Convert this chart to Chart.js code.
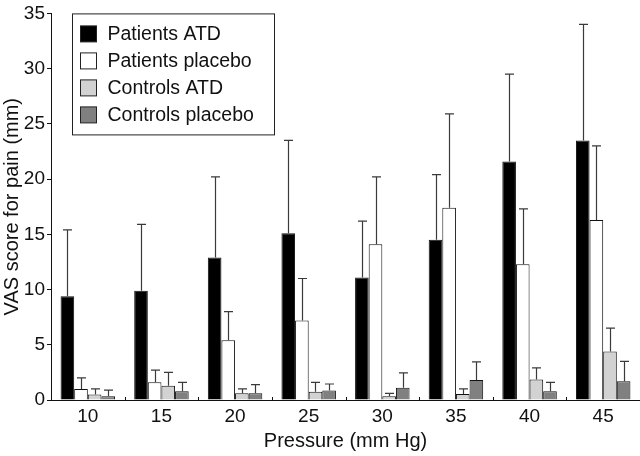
<!DOCTYPE html>
<html>
<head>
<meta charset="utf-8">
<script src="https://cdn.jsdelivr.net/npm/chart.js@4/dist/chart.umd.min.js"></script>
<style>
  html, body { margin: 0; padding: 0; background: #fff; }
  #wrap { width: 640px; height: 456px; }
</style>
</head>
<body>
<div id="wrap"><canvas id="chart" width="640" height="456"></canvas></div>
<script>
// Pain VAS by pressure, ATD vs placebo (mean + SD)
const pressures = ['10', '15', '20', '25', '30', '35', '40', '45'];

const patientsAtd      = [9.4, 9.9, 12.9, 15.1, 11.1, 14.5, 21.6, 23.5];
const patientsAtdSd    = [6.0, 6.0, 7.3, 8.4, 5.1, 5.9, 7.9, 10.5];
const patientsPlacebo  = [1.0, 1.6, 5.4, 7.2, 14.1, 17.4, 12.3, 16.3];
const patientsPlaceboSd = [1.0, 1.1, 2.6, 3.8, 6.1, 8.5, 5.0, 6.7];
const controlsAtd      = [0.5, 1.3, 0.6, 0.75, 0.35, 0.55, 1.85, 4.4];
const controlsAtdSd    = [0.5, 1.2, 0.4, 0.85, 0.25, 0.45, 1.05, 2.1];
const controlsPlacebo  = [0.35, 0.8, 0.6, 0.85, 1.1, 1.8, 0.8, 1.7];
const controlsPlaceboSd = [0.55, 0.8, 0.8, 0.6, 1.35, 1.65, 0.8, 1.8];

const yTicks = [0, 5, 10, 15, 20, 25, 30, 35];

const FONT = '"Liberation Sans", Arial, sans-serif';
const INK = '#111';

/**
 * Upward error bars (mean + SD), drawn through the scales
 */
const errorBars = {
    id: 'errorBars',
    afterDatasetsDraw(chart) {
        const ctx = chart.ctx;
        const y = chart.scales.y;
        ctx.save();
        ctx.strokeStyle = '#3a3a3a';
        ctx.lineWidth = 1.2;
        chart.data.datasets.forEach((ds, i) => {
            const meta = chart.getDatasetMeta(i);
            meta.data.forEach((bar, j) => {
                const top = y.getPixelForValue(ds.data[j] + ds.sd[j]);
                const x = Math.round(bar.x) + 0.5;
                ctx.beginPath();
                ctx.moveTo(x, bar.y);
                ctx.lineTo(x, top);
                ctx.moveTo(x - 4.5, top);
                ctx.lineTo(x + 4.5, top);
                ctx.stroke();
            });
        });
        ctx.restore();
    }
};

/**
 * Small upward ticks between pressure groups on the x axis
 */
const groupTicks = {
    id: 'groupTicks',
    afterDraw(chart) {
        const ctx = chart.ctx;
        const x = chart.scales.x;
        const base = chart.chartArea.bottom;
        ctx.save();
        ctx.strokeStyle = INK;
        ctx.lineWidth = 1;
        for (let i = 0; i < pressures.length - 1; i++) {
            const px = Math.round((x.getPixelForValue(i) + x.getPixelForValue(i + 1)) / 2) + 0.5;
            ctx.beginPath();
            ctx.moveTo(px, base);
            ctx.lineTo(px, base - 3);
            ctx.stroke();
        }
        ctx.restore();
    }
};

/**
 * Boxed legend in the upper left of the plot
 */
const boxLegend = {
    id: 'boxLegend',
    afterDraw(chart) {
        const ctx = chart.ctx;
        const area = chart.chartArea;
        const left = area.left + 21.5;
        const top = area.top + 0.5;
        const w = 202, h = 121, row = 27;
        ctx.save();
        ctx.fillStyle = '#fff';
        ctx.fillRect(left, top, w, h);
        ctx.strokeStyle = '#222';
        ctx.lineWidth = 1;
        ctx.strokeRect(left, top, w, h);
        ctx.font = '19.5px ' + FONT;
        ctx.textBaseline = 'middle';
        chart.data.datasets.forEach((ds, i) => {
            const cy = top + 20 + i * row;
            ctx.fillStyle = ds.backgroundColor;
            ctx.fillRect(left + 8, cy - 8, 16, 16);
            ctx.strokeStyle = '#222';
            ctx.strokeRect(left + 8, cy - 8, 16, 16);
            ctx.fillStyle = INK;
            ctx.fillText(ds.label, left + 35, cy + 1);
        });
        ctx.restore();
    }
};

function makeSet(label, data, sd, color) {
    return {
        label,
        data,
        sd,
        backgroundColor: color,
        borderColor: '#111',
        borderWidth: 1,
        borderSkipped: 'bottom',
        barPercentage: 1.0,
        categoryPercentage: 0.74
    };
}

document.addEventListener('DOMContentLoaded', () => {
    const ctx = document.getElementById('chart').getContext('2d');
    new Chart(ctx, {
        type: 'bar',
        data: {
            labels: pressures,
            datasets: [
                makeSet('Patients ATD', patientsAtd, patientsAtdSd, '#000000'),
                makeSet('Patients placebo', patientsPlacebo, patientsPlaceboSd, '#ffffff'),
                makeSet('Controls ATD', controlsAtd, controlsAtdSd, '#d2d2d2'),
                makeSet('Controls placebo', controlsPlacebo, controlsPlaceboSd, '#808080')
            ]
        },
        options: {
            responsive: false,
            animation: false,
            layout: { padding: { top: 7, right: 0, left: 0, bottom: 0 } },
            plugins: {
                legend: { display: false },
                tooltip: { enabled: false }
            },
            scales: {
                x: {
                    grid: { display: false },
                    border: { display: true, color: INK, width: 1 },
                    ticks: { color: INK, font: { family: FONT, size: 19 }, padding: -3 },
                    title: {
                        display: true,
                        text: 'Pressure (mm Hg)',
                        color: INK,
                        font: { family: FONT, size: 20 },
                        padding: { top: 0, bottom: 3 }
                    },
                    afterFit(scale) { scale.height = 56; }
                },
                y: {
                    min: 0,
                    max: 35,
                    afterBuildTicks(scale) {
                        scale.ticks = yTicks.map(v => ({ value: v }));
                    },
                    grid: { drawOnChartArea: false, drawTicks: true, tickLength: 4, color: INK },
                    border: { display: true, color: INK, width: 1 },
                    ticks: { color: INK, font: { family: FONT, size: 19 }, padding: 2 },
                    title: {
                        display: true,
                        text: 'VAS score for pain (mm)',
                        color: INK,
                        font: { family: FONT, size: 20 },
                        padding: { top: 0, bottom: 0 }
                    },
                    afterFit(scale) { scale.width = 51; }
                }
            }
        },
        plugins: [errorBars, groupTicks, boxLegend]
    });
});
</script>
</body>
</html>
